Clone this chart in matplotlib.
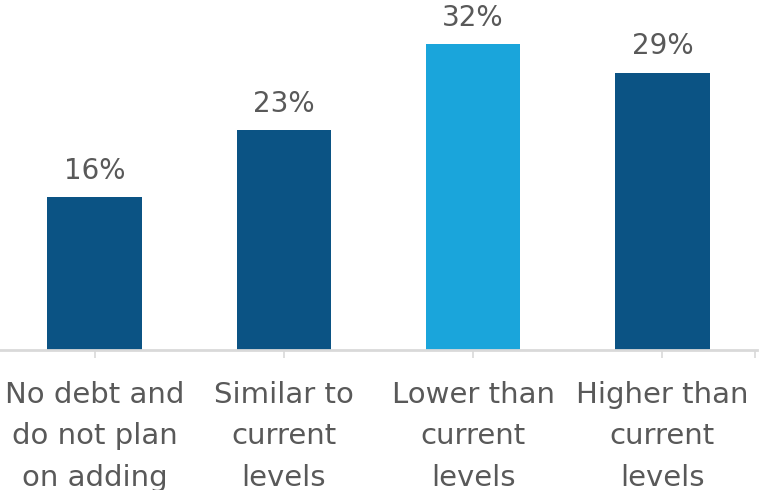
import numpy as np
import matplotlib.pyplot as plt

categories = ['No debt and\ndo not plan\non adding', 'Similar to\ncurrent\nlevels',
              'Lower than\ncurrent\nlevels', 'Higher than\ncurrent\nlevels']
values = [16, 23, 32, 29]
colors = ['#0b5384', '#0b5384', '#1aa5db', '#0b5384']

text_color = '#595959'

fig = plt.figure(figsize=(7.59, 4.9), dpi=100)
ax = fig.add_axes([0, 140 / 490, 757 / 759, 350 / 490])

x = np.arange(len(values))
ax.bar(x, values, width=0.5, color=colors, zorder=2)
for xi, v in zip(x, values):
    ax.text(xi, v + 1.3, '{}%'.format(v), ha='center', va='bottom',
            fontsize=20, color=text_color)

ax.set_xlim(-0.5, 3.5)
ax.set_ylim(0, 36.6)
ax.set_yticks([])
ax.set_xticks(list(x) + [3.49])
ax.set_xticklabels(categories + [''], fontsize=21, color=text_color, linespacing=1.62)
ax.tick_params(axis='x', length=6, width=1.2, color='#d9d9d9', pad=16)
for side in ['top', 'right', 'left']:
    ax.spines[side].set_visible(False)
ax.spines['bottom'].set_color('#d9d9d9')
ax.spines['bottom'].set_linewidth(2)

fig.savefig('out.png', dpi=100)
